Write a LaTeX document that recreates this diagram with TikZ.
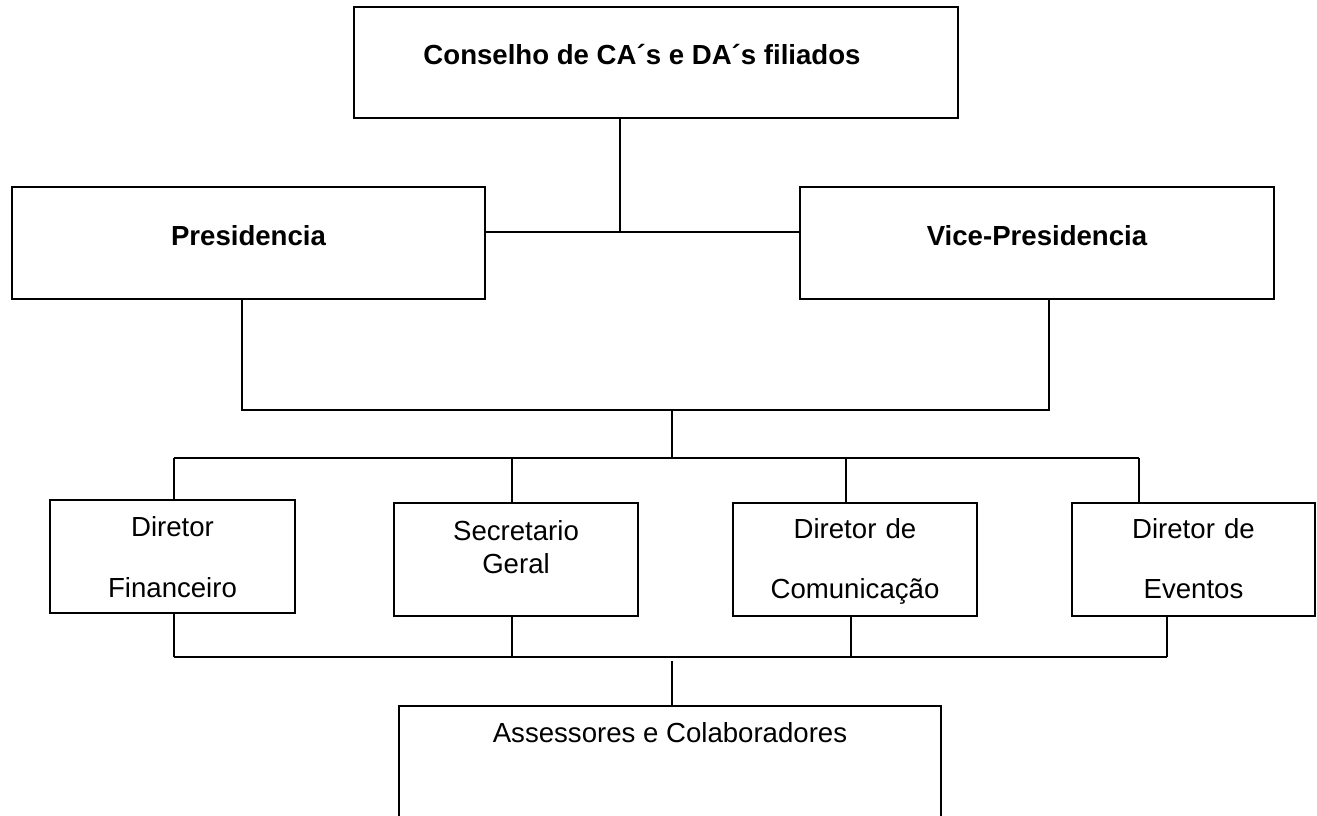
\documentclass[tikz,border=0pt]{standalone}
\usepackage{fontspec}
\setmainfont{Liberation Sans}
\usetikzlibrary{calc}

\tikzset{
  box/.style={draw, line width=0.6pt, inner sep=0pt, align=center,
    font=\fontsize{13.8}{16.5}\selectfont},
  headbox/.style={box, font=\fontsize{13.8}{16.5}\selectfont\bfseries,
    text height=10pt, text depth=8pt},
  dirbox/.style={box, minimum width=122pt, minimum height=56.5pt,
    text width=116pt, text height=5pt},
  line/.style={line width=0.65pt}
}

\begin{document}
\begin{tikzpicture}[x=0.5pt, y=-0.5pt]
        \useasboundingbox (0,0) rectangle (1317,815);
        \clip (0,0) rectangle (1317,815);
        % Top boxes
        \node [headbox, minimum width=302pt, minimum height=55.5pt] (cons) at (656,62.5)
            {Conselho de CA´s e DA´s filiados\hspace*{14pt}};
        \node [headbox, minimum width=236.5pt, minimum height=56pt] (pres) at (248.5,243)
            {Presidencia};
        \node [headbox, minimum width=237pt, minimum height=56pt] (vice) at (1037,243)
            {Vice-Presidencia};
        % Directors
        \node [dirbox, minimum width=122.5pt, text depth=25.5pt] (fin) at (172.5,556.5)
            {Diretor\\[14pt] Financeiro};
        \node [dirbox, text depth=24.5pt] (sec) at (516,559.5)
            {Secretario\\ Geral};
        \node [dirbox, text depth=26.5pt] (com) at (855,559.5)
            {Diretor de\\[13.5pt] Comunicação};
        \node [dirbox, minimum width=121.5pt, text depth=26.5pt] (eve) at (1193.5,559.5)
            {Diretor de\\[13.5pt] Eventos};
        % Bottom box
        \node [box, minimum width=271pt, minimum height=72pt,
            text height=10pt, text depth=46pt] (assess) at (670,778)
            {Assessores e Colaboradores};
        % Upper connectors
        \coordinate (cj) at (620,232);
        \coordinate (pl) at (242,410);
        \coordinate (vr) at (1049,410);
        \coordinate (mj) at (672,410);
        \coordinate (tb) at (672,458);
        \draw [line] (cons.south -| cj) -- (cj);
        \draw [line] (pres.east |- cj) -- (vice.west |- cj);
        \draw [line] (pres.south -| pl) -- (pl) -- (vr) -- (vice.south -| vr);
        \draw [line] (mj) -- (tb);
        % Ticks to the directors
            \foreach \n/\x in {fin/174, sec/512, com/846, eve/1139}
        {
        \coordinate (\n-up) at (\x,458);
        \draw [line] (\n-up) -- (\n.north -| \n-up);
        }
        \draw [line] (fin-up) -- (eve-up);
            \foreach \n/\x in {fin/174, sec/512, com/851, eve/1167}
        {
        \coordinate (\n-dn) at (\x,657);
        \draw [line] (\n.south -| \n-dn) -- (\n-dn);
        }
        \draw [line] (fin-dn) -- (eve-dn);
        % Lower connector
        \coordinate (bj) at (672,661);
        \draw [line] (bj) -- (assess.north -| bj);
\end{tikzpicture}
\end{document}
